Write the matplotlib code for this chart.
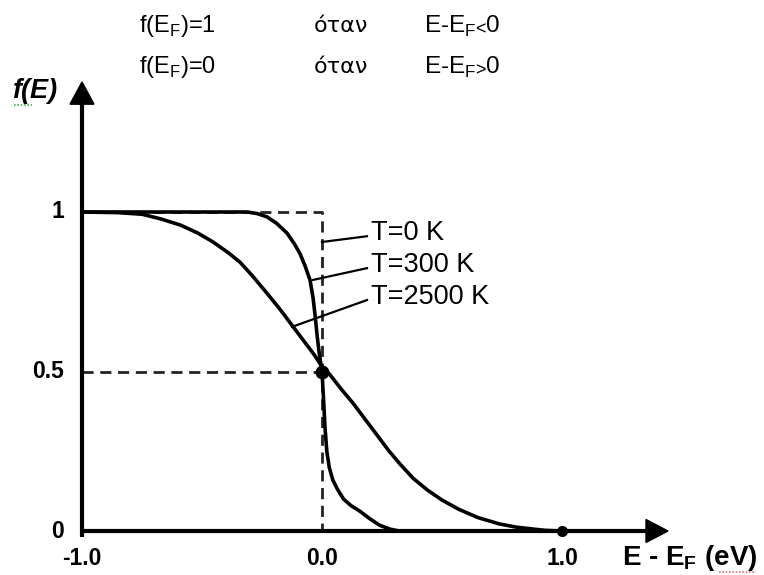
import matplotlib
matplotlib.use("Agg")
import matplotlib.pyplot as plt
from matplotlib.patches import Polygon

plt.rcParams['mathtext.fontset'] = 'custom'
plt.rcParams['mathtext.rm'] = 'Liberation Sans'
plt.rcParams['mathtext.bf'] = 'Liberation Sans:bold'
plt.rcParams['font.family'] = ['Liberation Sans', 'DejaVu Sans']

# ---- data ----
x_ticks = [-1.0, 0.0, 1.0]
x_tick_labels = ['-1.0', '0.0', '1.0']
y_ticks = [0, 0.5, 1]
y_tick_labels = ['0', '0.5', '1']

# T = 0 K step (dashed)
t0_E = [-1.0, 0.0, 0.0, 0.0]
t0_f = [1.0, 1.0, 0.5, 0.0]
half_E = [-1.0, 0.0]
half_f = [0.5, 0.5]

# T = 300 K
t300_E = [-1.0, -0.31, -0.27, -0.23, -0.19, -0.146, -0.115, -0.092, -0.07, -0.05,
          -0.037, -0.028, -0.02, -0.012, -0.005, 0.0, 0.006, 0.012, 0.02, 0.03,
          0.045, 0.065, 0.09, 0.12, 0.158, 0.2, 0.24, 0.283, 0.32, 1.0]
t300_f = [1.0, 1.0, 0.995, 0.985, 0.965, 0.934, 0.9, 0.87, 0.83, 0.787,
          0.73, 0.67, 0.61, 0.56, 0.525, 0.5, 0.42, 0.33, 0.25, 0.2,
          0.16, 0.13, 0.1, 0.08, 0.062, 0.038, 0.018, 0.006, 0.0, 0.0]

# T = 2500 K
t2500_E = [-1.0, -0.85, -0.75, -0.67, -0.59, -0.52, -0.454, -0.39, -0.342, -0.29,
           -0.23, -0.175, -0.12, -0.07, -0.03, 0.0, 0.033, 0.08, 0.13, 0.185,
           0.24, 0.28, 0.325, 0.38, 0.44, 0.5, 0.57, 0.65, 0.74, 0.81, 0.88, 0.93, 1.0]
t2500_f = [1.0, 0.998, 0.993, 0.978, 0.959, 0.935, 0.906, 0.872, 0.843, 0.80,
           0.746, 0.695, 0.64, 0.59, 0.55, 0.515, 0.49, 0.445, 0.40, 0.345,
           0.29, 0.25, 0.21, 0.165, 0.128, 0.097, 0.068, 0.042, 0.022, 0.012, 0.006, 0.002, 0.0]

labels = ['T=0 K', 'T=300 K', 'T=2500 K']
label_anchor_E = [0.0, -0.0375, -0.125]
label_anchor_f = [0.906, 0.787, 0.64]
label_text_f = [0.934, 0.834, 0.734]

# ---- figure ----
W, H = 764, 575
fig = plt.figure(figsize=(W / 100, H / 100), dpi=100)
ax = fig.add_axes([0, 0, 1, 1])
x0px, sx = 322.0, 240.0
y0px, sy = 531.0, 319.0
ax.set_xlim(-x0px / sx, (W - x0px) / sx)
ax.set_ylim(-(H - y0px) / sy, y0px / sy)
ax.axis('off')

dash = (0, (4.0, 2.4))
# dashed T=0 and 0.5 guide
ax.plot(t0_E, t0_f, color='#222222', lw=2.0, ls=dash, zorder=2)
ax.plot(half_E, half_f, color='#222222', lw=2.0, ls=dash, zorder=2)

# curves
ax.plot(t2500_E, t2500_f, color='black', lw=2.6, zorder=3, solid_joinstyle='round')
ax.plot(t300_E, t300_f, color='black', lw=2.6, zorder=3, solid_joinstyle='round')

# axes lines
xmin = -1.0
ax.plot([xmin, xmin], [-0.02, 1.35], color='black', lw=3, zorder=4, solid_capstyle='butt')
ax.plot([xmin, 1.36], [0, 0], color='black', lw=3, zorder=4, solid_capstyle='butt')
# arrow heads
ytip = 1.4075
ax.add_patch(Polygon([[xmin - 0.05, 1.338], [xmin + 0.05, 1.338], [xmin, ytip]],
                     closed=True, color='black', zorder=5))
xtip = 1.4417
ax.add_patch(Polygon([[1.35, -0.036], [1.35, 0.036], [xtip, 0]],
                     closed=True, color='black', zorder=5))

# dots
ax.plot([0.0], [0.5], 'o', color='black', ms=9, zorder=6)
ax.plot([1.0], [0.0], 'o', color='black', ms=7, zorder=6)

# tick labels
for v, t in zip(x_ticks, x_tick_labels):
    ax.text(v, -0.085, t, ha='center', va='center', fontsize=16.5,
            fontweight='bold', family=['Liberation Sans Narrow', 'Liberation Sans'])
for v, t in zip(y_ticks, y_tick_labels):
    ax.text(-1.075, v, t, ha='right', va='center', fontsize=16.5,
            fontweight='bold', family=['Liberation Sans Narrow', 'Liberation Sans'])

# axis labels
ax.text(1.25, -0.085, r'E - E$_{\mathbf{F}}$ (eV)', ha='left', va='center',
        fontsize=20, fontweight='bold')
ax.text(-1.29, 1.378, 'f(E)', ha='left', va='center', fontsize=19.5,
        fontweight='bold', fontstyle='italic')
# spell-check underlines from the source document
ax.plot([-1.285, -1.21], [1.335, 1.335], color='#4caf50', lw=1.2, ls=(0, (1, 1)))
ax.plot([1.655, 1.81], [-0.128, -0.128], color='#e57373', lw=1.2, ls=(0, (1, 1)))

# curve labels with leader lines
for lab, ae, af, tf in zip(labels, label_anchor_E, label_anchor_f, label_text_f):
    ax.plot([ae, 0.1875], [af, tf - 0.01], color='black', lw=1.6, zorder=3)
    ax.text(0.205, tf, lab, ha='left', va='center', fontsize=19.5)

# top text
rows = [(r'f(E$_{\mathregular{F}}$)=1', 'όταν', r'E-E$_{\mathregular{F}}$'),
        (r'f(E$_{\mathregular{F}}$)=0', 'όταν', r'E-E$_{\mathregular{F}}$')]
row_rel = ['<', '>']
row_y = [26, 67]
col_x = [139, 314, 424]
fams = [['Liberation Sans'], ['DejaVu Sans'], ['Liberation Sans']]
sizes = [17, 16, 17.5]
for r, rel, yy in zip(rows, row_rel, row_y):
    for t, xx, fm, fs in zip(r, col_x, fams, sizes):
        fig.text(xx / W, 1 - yy / H, t, ha='left', va='center', fontsize=fs, family=fm)
    # small relation sign and the zero, as in the source
    fig.text(475 / W, 1 - (yy + 4) / H, rel, ha='left', va='center', fontsize=13,
             family=['Liberation Sans'])
    fig.text(486 / W, 1 - yy / H, '0', ha='left', va='center', fontsize=17.5,
             family=['Liberation Sans'])

fig.savefig('out.png', dpi=100)
